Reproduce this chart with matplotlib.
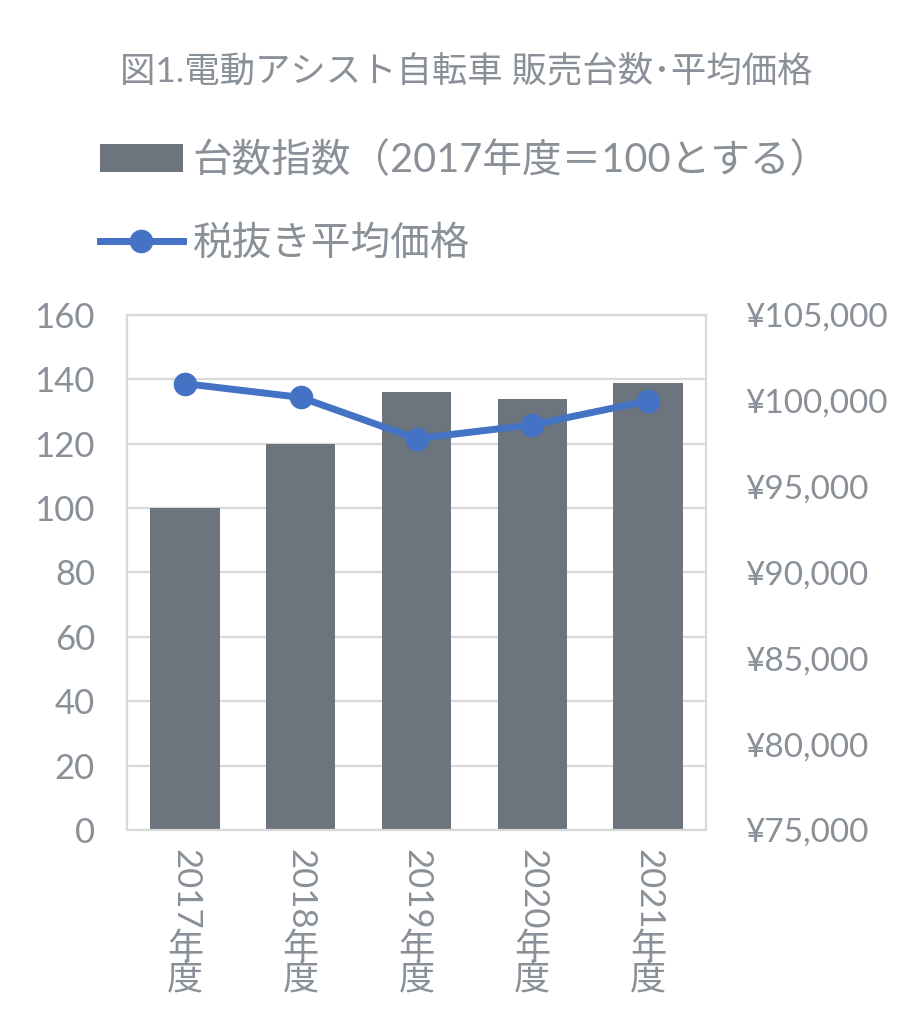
import matplotlib.pyplot as plt
from matplotlib.ticker import FuncFormatter, MultipleLocator

years = ['2017', '2018', '2019', '2020', '2021']
suffix = '年度'
unit_index = [100, 120, 136, 134, 139]
avg_price = [101000, 100200, 97800, 98600, 100000]

title = '図1.電動アシスト自転車 販売台数･平均価格'
bar_label = '台数指数（2017年度＝100とする）'
line_label = '税抜き平均価格'

BAR_COLOR = '#6c757d'
LINE_COLOR = '#4472c4'
TEXT_COLOR = '#8a9097'
GRID_COLOR = '#d9d9d9'

plt.rcParams['font.family'] = ['Lato', 'Noto Sans CJK JP', 'DejaVu Sans']
plt.rcParams['font.weight'] = 'normal'


def main():
    fig = plt.figure(figsize=(9.23, 10.23), dpi=100)
    ax = fig.add_axes([0.1376, 0.1887, 0.6273, 0.5034])
    x = list(range(len(years)))

    bars = ax.bar(x, unit_index, width=0.6, color=BAR_COLOR, zorder=2)
    ax.set_xlim(-0.5, len(years) - 0.5)
    ax.set_ylim(0, 160)
    ax.yaxis.set_major_locator(MultipleLocator(20))
    ax.set_axisbelow(True)
    ax.yaxis.grid(True, color=GRID_COLOR, linewidth=1.6)
    for s in ax.spines.values():
        s.set_color(GRID_COLOR)
        s.set_linewidth(1.6)
    ax.set_xticks(x)
    ax.set_xticklabels([''] * len(x))
    ax.tick_params(axis='both', length=0)
    ax.tick_params(axis='y', labelsize=25, labelcolor=TEXT_COLOR, pad=23)

    ax2 = ax.twinx()
    line, = ax2.plot(x, avg_price, color=LINE_COLOR, linewidth=5,
                     marker='o', markersize=16, zorder=3)
    ax2.set_ylim(75000, 105000)
    ax2.yaxis.set_major_locator(MultipleLocator(5000))
    ax2.yaxis.set_major_formatter(FuncFormatter(lambda v, p: '¥{:,.0f}'.format(v)))
    ax2.tick_params(axis='y', length=0, labelsize=24, labelcolor=TEXT_COLOR, pad=28)
    for s in ax2.spines.values():
        s.set_visible(False)

    # category labels: digits turned, kanji upright
    for i, yr in zip(x, years):
        digits = ax.annotate(yr, xy=(i, 0), xycoords=('data', 'axes fraction'),
                             xytext=(0, -14), textcoords='offset points',
                             rotation=-90, ha='center', va='top',
                             fontsize=25, color=TEXT_COLOR)
        ax.annotate('\n'.join(suffix), xy=(0.5, 0), xycoords=digits,
                    xytext=(0, -1), textcoords='offset points',
                    ha='center', va='top', fontsize=26, linespacing=0.95,
                    color=TEXT_COLOR)

    fig.text(0.505, 0.9316, title, ha='center', va='center',
             fontsize=25.5, color=TEXT_COLOR)

    fig.legend(handles=[bars, line], labels=[bar_label, line_label],
               loc='upper left', bbox_to_anchor=(0.108, 0.862),
               frameon=False, fontsize=28.5, handlelength=2.1,
               handletextpad=0.25, labelspacing=1.15, labelcolor=TEXT_COLOR,
               borderpad=0, borderaxespad=0)

    fig.savefig('out.png', dpi=100)


if __name__ == '__main__':
    main()
